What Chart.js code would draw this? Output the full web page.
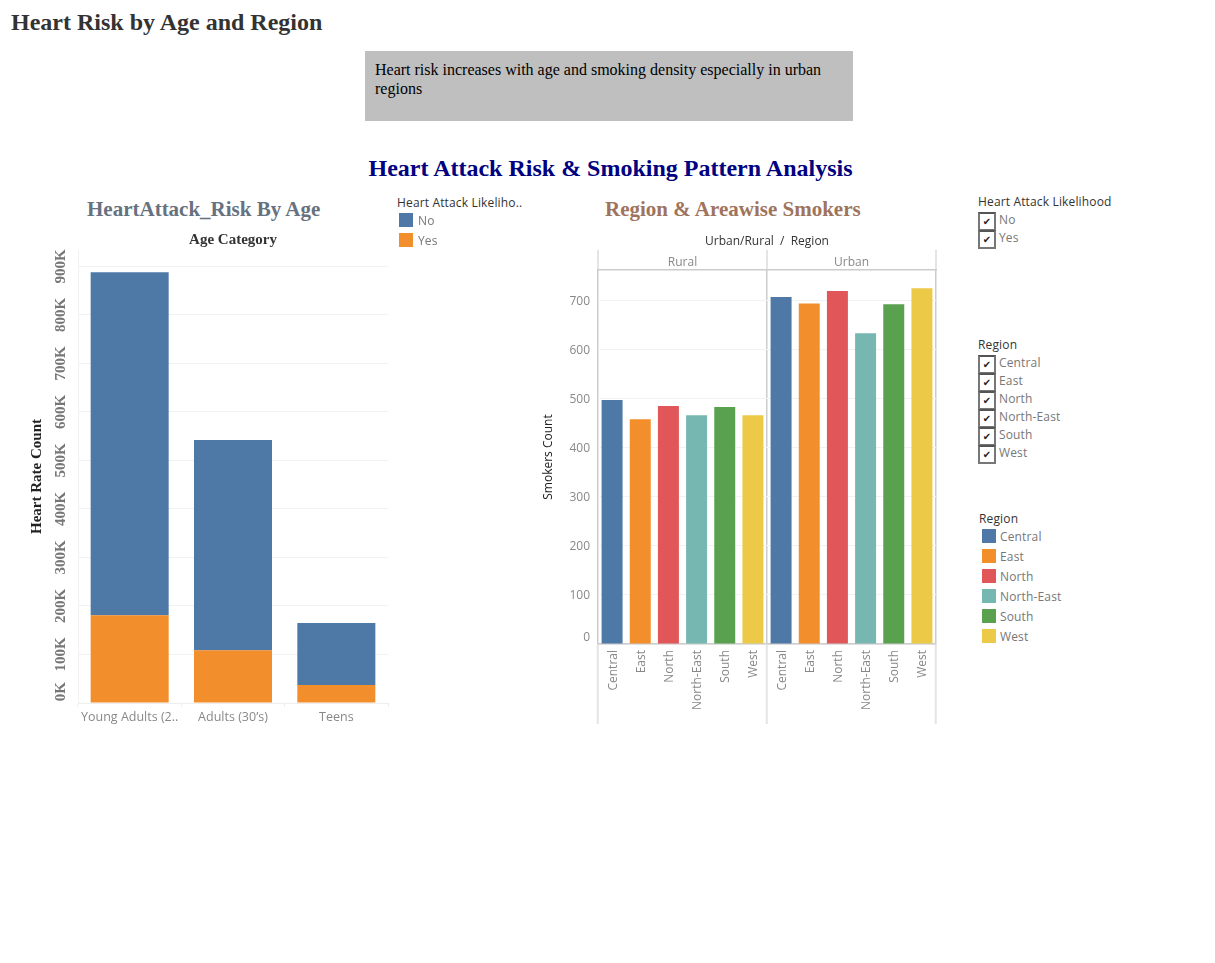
<!DOCTYPE html>
<html>
<head>
<meta charset="utf-8">
<title>Heart Risk by Age and Region</title>
<script src="https://cdn.jsdelivr.net/npm/chart.js@4"></script>
<style>
  html, body { margin: 0; padding: 0; background: #fff; }
  #page { position: relative; width: 1215px; height: 963px; overflow: hidden; font-family: "Open Sans", sans-serif; }
  #page > * { position: absolute; }
  .serif { font-family: "Liberation Serif", serif; white-space: nowrap; font-weight: bold; }
  #mainTitle { left: 11px; top: 8px; font-size: 24px; line-height: 28px; color: #333; }
  #note { left: 365px; top: 51px; width: 468px; height: 51px; padding: 9px 10px 10px; background: #bfbfbf;
    font: 16px/19px "Liberation Serif", serif; color: #000; }
  #dashTitle { left: 0; width: 1221px; text-align: center; top: 154px; font-size: 24px; line-height: 29px; color: #000080; }
  #ageTitle { left: 87px; top: 196px; font-size: 21px; line-height: 26px; color: #66727f; }
  #regionTitle { left: 605px; top: 196px; font-size: 21px; line-height: 26px; color: #a0745c; }
  .head { font-size: 12px; line-height: 16px; color: #333; white-space: nowrap; letter-spacing: 0.15px; }
  .legend-row, .check-row { position: absolute; font-size: 12px; color: #777; white-space: nowrap; letter-spacing: 0.15px; }
  .swatch { position: absolute; left: 0; top: 0; width: 14px; height: 14px; }
  .legend-row span { position: absolute; top: 0; line-height: 16px; }
  .check-row i { position: absolute; left: 0; top: 0; width: 14px; height: 15px; border: 2px solid #777; border-top-color: #555;
    font: bold 10px/15px "DejaVu Sans", sans-serif; color: #222; text-align: center; }
  .check-row span { position: absolute; left: 21px; top: 0; line-height: 16px; }
  canvas { position: absolute; }
</style>
</head>
<body>
<div id="page">
  <div id="mainTitle" class="serif">Heart Risk by Age and Region</div>
  <div id="note">Heart risk increases with age and smoking density especially in urban regions</div>
  <div id="dashTitle" class="serif">Heart Attack Risk &amp; Smoking Pattern Analysis</div>
  <div id="ageTitle" class="serif">HeartAttack_Risk By Age</div>
  <div id="regionTitle" class="serif">Region &amp; Areawise Smokers</div>
  <canvas id="ageChart" width="400" height="505" style="left:0;top:230px"></canvas>
  <canvas id="regionChart" width="410" height="496" style="left:530px;top:230px"></canvas>
  <div id="ageLegend" style="left:397px;top:195px"></div>
  <div id="likelihoodFilter" style="left:978px;top:194px"></div>
  <div id="regionFilter" style="left:978px;top:337px"></div>
  <div id="regionLegend" style="left:979px;top:511px"></div>
</div>

<script>
  // data
  const ageCategories = ['Young Adults (2..', 'Adults (30’s)', 'Teens'];
  const ageYes = [181000, 109000, 37000];
  const ageNo = [707000, 433000, 128000];
  const ageTicks = [0, 100000, 200000, 300000, 400000, 500000, 600000, 700000, 800000, 900000];

  const areas = ['Rural', 'Urban'];
  const regions = ['Central', 'East', 'North', 'North-East', 'South', 'West'];
  const ruralSmokers = [497, 458, 485, 466, 483, 466];
  const urbanSmokers = [707, 694, 719, 633, 692, 725];
  const smokerTicks = [0, 100, 200, 300, 400, 500, 600, 700];

  const likelihoods = ['No', 'Yes'];
  const likelihoodColors = ['#4e79a7', '#f28e2b'];
  const regionColors = ['#4e79a7', '#f28e2b', '#e15759', '#76b7b2', '#59a14f', '#edc948'];

  const GRID = '#f2f2f2';
  const SANS = '"Open Sans", sans-serif';
  const SERIF = '"Liberation Serif", serif';

  /* ---------- legends and filters ---------- */
  function addHead(root, text) {
    const h = document.createElement('div');
    h.className = 'head';
    h.textContent = text;
    root.appendChild(h);
  }
  function legend(rootId, title, names, colors, left, firstTop, labelLeft) {
    const root = document.getElementById(rootId);
    addHead(root, title);
    names.forEach((n, i) => {
      const row = document.createElement('div');
      row.className = 'legend-row';
      row.style.left = left + 'px';
      row.style.top = (firstTop + i * 20) + 'px';
      row.innerHTML = `<div class="swatch" style="background:${colors[i]}"></div><span style="left:${labelLeft}px">${n}</span>`;
      root.appendChild(row);
    });
  }
  function filter(rootId, title, names) {
    const root = document.getElementById(rootId);
    addHead(root, title);
    names.forEach((n, i) => {
      const row = document.createElement('div');
      row.className = 'check-row';
      row.style.top = (18 + i * 18) + 'px';
      row.innerHTML = `<i>✔</i><span>${n}</span>`;
      root.appendChild(row);
    });
  }
  legend('ageLegend', 'Heart Attack Likeliho..', likelihoods, likelihoodColors, 2, 18, 19);
  legend('regionLegend', 'Region', regions, regionColors, 3, 18, 18);
  filter('likelihoodFilter', 'Heart Attack Likelihood', likelihoods);
  filter('regionFilter', 'Region', regions);

  /* ---------- left chart ---------- */
  Chart.defaults.animation = false;
  Chart.defaults.devicePixelRatio = 1;

  const ageLabel = v => v === 0 ? '      0K' : (v / 1000) + 'K';
  new Chart(document.getElementById('ageChart'), {
    type: 'bar',
    data: {
      labels: ageCategories,
      datasets: [
        { label: 'Yes', data: ageYes, backgroundColor: likelihoodColors[1], xAxisID: 'x' },
        { label: 'No', data: ageNo, backgroundColor: likelihoodColors[0], xAxisID: 'x' }
      ]
    },
    options: {
      responsive: false,
      layout: { padding: { left: 0, right: 12, top: 0, bottom: 0 } },
      plugins: { legend: { display: false }, tooltip: { enabled: false } },
      datasets: { bar: { barPercentage: 0.755, categoryPercentage: 1 } },
      scales: {
        x: {
          stacked: true,
          afterFit: s => { s.height = 32; },
          grid: { offset: true, drawOnChartArea: false, tickLength: 4, color: '#eeeeee', tickColor: '#eeeeee' },
          border: { color: '#eeeeee' },
          ticks: { color: '#888', font: { family: SANS, size: 12.5 }, padding: 3, maxRotation: 0, autoSkip: false }
        },
        xTop: {
          position: 'top',
          type: 'category',
          labels: [''],
          afterFit: s => { s.height = 20; },
          grid: { display: false },
          border: { display: false },
          ticks: { display: false },
          title: { display: true, text: 'Age Category', color: '#333', padding: { top: 1, bottom: 0 },
            font: { family: SERIF, size: 15, weight: 'bold' } }
        },
        y: {
          stacked: true,
          min: 0,
          max: 934000,
          afterBuildTicks: s => { s.ticks = ageTicks.map(value => ({ value })); },
          afterFit: s => { s.width = 78; },
          grid: { color: GRID, drawTicks: false },
          border: { color: '#f0f0f0' },
          ticks: {
            minRotation: 90, maxRotation: 90, crossAlign: 'center', padding: -4, color: '#777',
            font: { family: SERIF, size: 15, weight: 'bold' },
            callback: ageLabel
          },
          title: { display: true, text: 'Heart Rate Count', color: '#222', padding: { top: 28, bottom: 0 },
            font: { family: SERIF, size: 15, weight: 'bold' } }
        }
      }
    }
  });

  /* ---------- right chart ---------- */
  const isPaneEdge = ctx => ctx.index === undefined || ctx.index % 6 === 0;
  new Chart(document.getElementById('regionChart'), {
    type: 'bar',
    data: {
      labels: regions.concat(regions),
      datasets: [{
        label: 'Smokers Count',
        data: ruralSmokers.concat(urbanSmokers),
        backgroundColor: regionColors.concat(regionColors),
        barPercentage: 0.745,
        categoryPercentage: 1
      }]
    },
    options: {
      responsive: false,
      layout: { padding: { left: 0, right: 4, top: 0, bottom: 0 } },
      plugins: { legend: { display: false }, tooltip: { enabled: false } },
      scales: {
        x: {
          afterFit: s => { s.height = 82; },
          grid: {
            offset: true,
            tickLength: 80,
            lineWidth: ctx => isPaneEdge(ctx) ? 1.5 : 0,
            color: '#cccccc',
            tickColor: ctx => isPaneEdge(ctx) ? '#e4e4e4' : 'transparent',
            tickWidth: 2
          },
          border: { color: '#cccccc', width: 1.5 },
          ticks: { color: '#888', font: { family: SANS, size: 12 }, padding: -74, labelOffset: 1, minRotation: 90, maxRotation: 90, autoSkip: false }
        },
        xTop: {
          position: 'top',
          type: 'category',
          labels: areas,
          afterFit: s => { s.height = 40; },
          grid: { offset: true, drawOnChartArea: false, tickLength: 20, color: '#e4e4e4', lineWidth: 2 },
          border: { color: '#cccccc', width: 1.5 },
          ticks: { color: '#888', font: { family: SANS, size: 12 }, padding: -20, maxRotation: 0 },
          title: { display: true, text: 'Urban/Rural  /  Region', color: '#333', padding: { top: 4, bottom: 0 },
            font: { family: SANS, size: 12 } }
        },
        y: {
          min: 0,
          max: 762,
          afterBuildTicks: s => { s.ticks = smokerTicks.map(value => ({ value })); },
          afterFit: s => { s.width = 68; },
          grid: { color: GRID, drawTicks: false },
          border: { display: false },
          ticks: {
            color: '#888', padding: 8, labelOffset: 1,
            font: { family: SANS, size: 12, lineHeight: 1.3 },
            callback: v => v === 0 ? ['0', ''] : String(v)
          },
          title: { display: true, text: 'Smokers Count', color: '#222', padding: { top: 11, bottom: 0 },
            font: { family: SANS, size: 12 } }
        }
      }
    }
  });
</script>
</body>
</html>
